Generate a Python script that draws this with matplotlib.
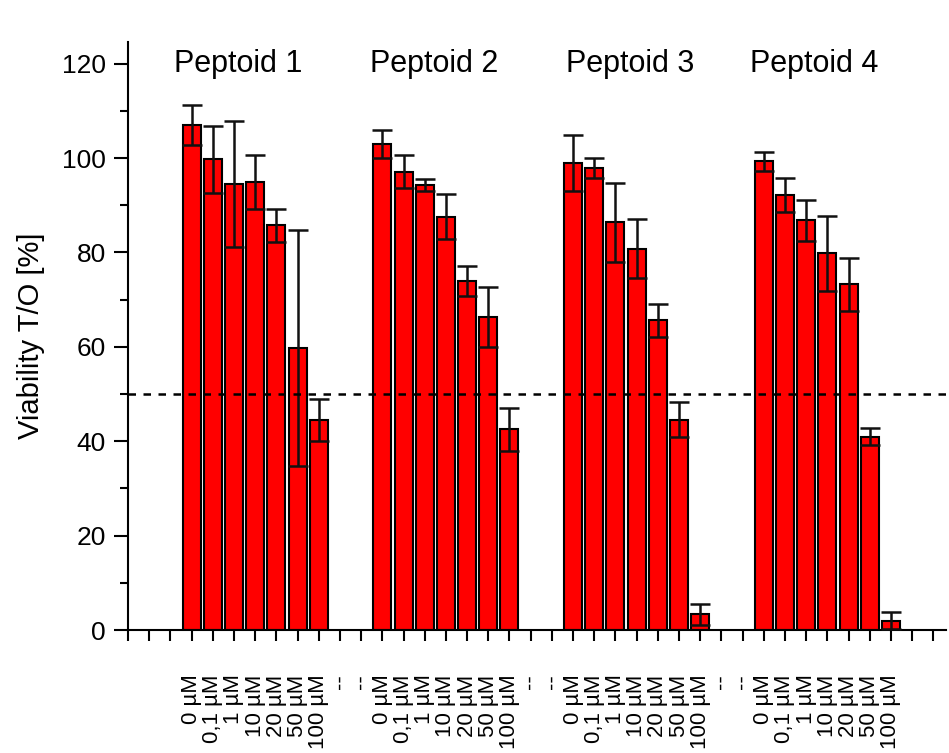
import numpy as np
import matplotlib
matplotlib.use("Agg")
import matplotlib.pyplot as plt
from matplotlib.ticker import MultipleLocator

plt.rcParams['font.family'] = ['Liberation Sans', 'DejaVu Sans']

# data
conc = ['0 µM', '0,1 µM', '1 µM', '10 µM', '20 µM', '50 µM', '100 µM']
peptoids = ['Peptoid 1', 'Peptoid 2', 'Peptoid 3', 'Peptoid 4']
p1 = [107.0, 99.7, 94.5, 95.0, 85.8, 59.8, 44.5]
e1 = [4.2, 7.0, 13.3, 5.7, 3.5, 25.0, 4.4]
p2 = [103.0, 97.1, 94.3, 87.6, 74.0, 66.3, 42.5]
e2 = [3.0, 3.5, 1.2, 4.8, 3.2, 6.4, 4.5]
p3 = [99.0, 97.9, 86.4, 80.8, 65.6, 44.6, 3.3]
e3 = [5.9, 2.2, 8.4, 6.2, 3.5, 3.7, 2.3]
p4 = [99.3, 92.2, 86.8, 79.8, 73.3, 41.0, 2.0]
e4 = [2.0, 3.6, 4.4, 8.0, 5.6, 1.7, 1.8]
threshold = 50

values = [p1, p2, p3, p4]
errors = [e1, e2, e3, e4]
title_x = [5.2, 14.45, 23.7, 32.4]  # where the group titles sit

fig = plt.figure(figsize=(9.49, 7.53), dpi=100)
ax = fig.add_axes([0.1349, 0.1633, 0.862, 0.781])

n = len(conc)
step = n + 2
ticks = []
labels = []
for g in range(len(peptoids)):
    x = np.arange(n) + 3 + g * step
    ax.bar(x, values[g], width=0.85, color='#ff0000', edgecolor='black',
           linewidth=1.5, zorder=2)
    ax.errorbar(x, values[g], yerr=errors[g], fmt='none', ecolor='#111111',
                elinewidth=1.8, capsize=7, capthick=1.8, zorder=3)
    ax.text(title_x[g], 120, peptoids[g], fontsize=22, ha='center', va='center')
    ticks += list(x)
    labels += conc
    if g < len(peptoids) - 1:
        ticks += [x[-1] + 1, x[-1] + 2]
        labels += ['--', '--']

ax.axhline(threshold, color='black', linestyle=(0, (3, 3)), linewidth=1.8, zorder=4)

ax.set_xlim(0, 38.6)
ax.set_ylim(0, 124.6)

# every integer position gets a tick, only some get a label
allpos = np.arange(0, 39)
lab_map = dict(zip(ticks, labels))
ax.set_xticks(allpos)
ax.set_xticklabels([lab_map.get(p, '') for p in allpos], rotation=90, fontsize=16)
ax.tick_params(axis='x', direction='out', length=8, width=1.5, pad=24)

ax.yaxis.set_major_locator(MultipleLocator(20))
ax.yaxis.set_minor_locator(MultipleLocator(10))
ax.tick_params(axis='y', which='major', direction='out', length=10, width=1.5,
               labelsize=19, pad=6)
ax.tick_params(axis='y', which='minor', direction='out', length=6, width=1.5)

ax.spines['top'].set_visible(False)
ax.spines['right'].set_visible(False)
ax.spines['left'].set_linewidth(1.5)
ax.spines['bottom'].set_linewidth(1.5)

ax.set_ylabel('Viability T/O [%]', fontsize=21)
ax.yaxis.set_label_coords(-0.102, 0.5)

fig.savefig('out.png', dpi=100)
